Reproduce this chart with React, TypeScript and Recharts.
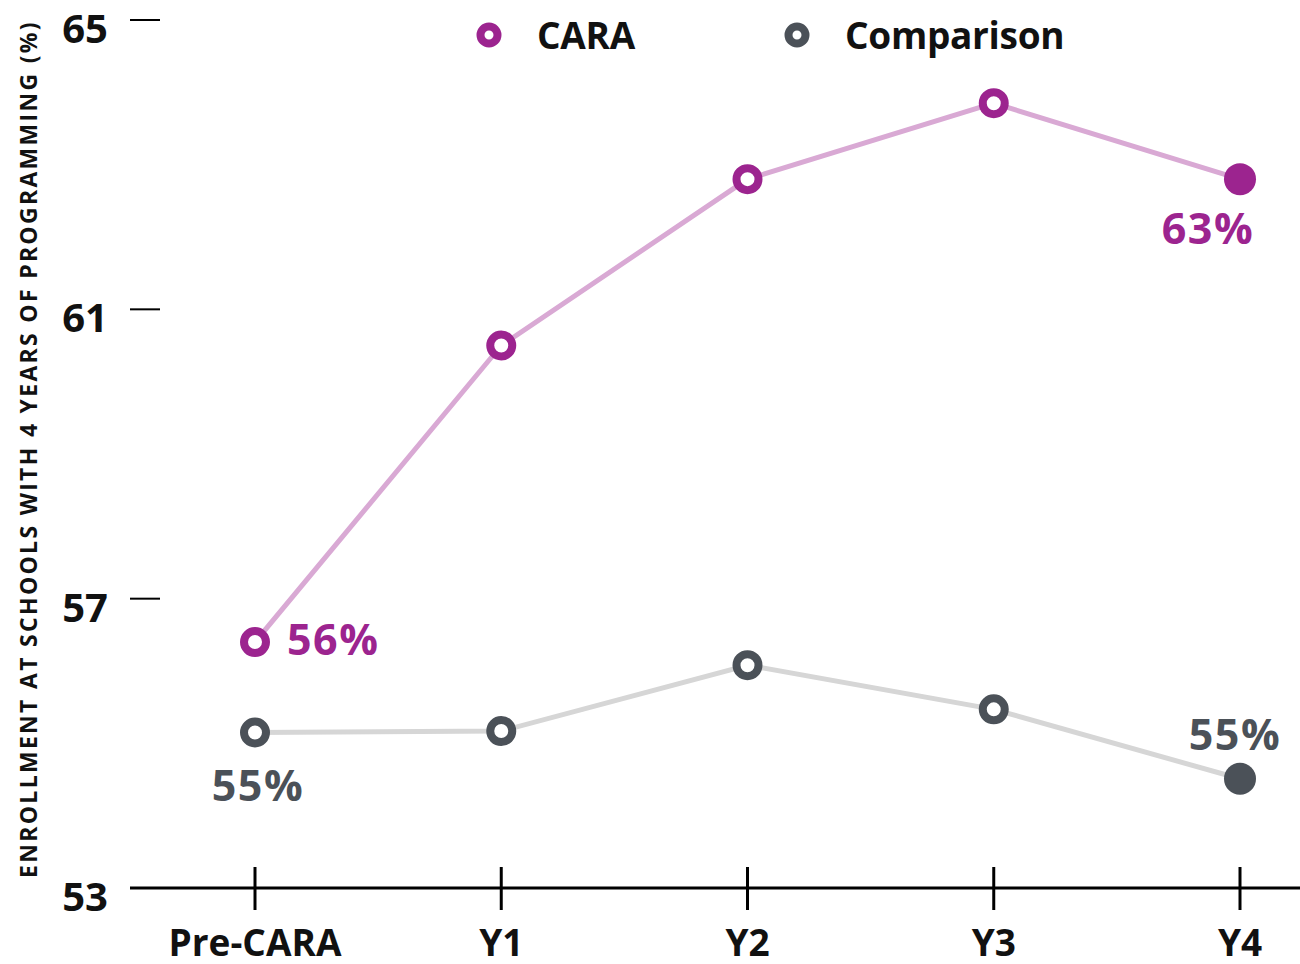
// Enrollment trend: CARA vs comparison schools
import { LineChart, Line, XAxis, YAxis, Legend, Label } from "recharts";

const periods = ["Pre-CARA", "Y1", "Y2", "Y3", "Y4"];
const caraValues = [56.4, 60.5, 62.8, 63.85, 62.8];
const comparisonValues = [55.15, 55.17, 56.08, 55.47, 54.51];
const yTicks = [53, 57, 61, 65];

const CARA_COLOR = "#9c248f";
const CARA_LINE = "#d9a9d4";
const COMP_COLOR = "#4b5158";
const COMP_LINE = "#d6d6d6";
const FONT = "'Open Sans', 'Noto Sans', sans-serif";

const data = periods.map((p, i) => ({
  period: p,
  cara: caraValues[i],
  comparison: comparisonValues[i],
}));

const makeDot = (color: string) => (props: any) => {
  const { cx, cy, index } = props;
  if (index === periods.length - 1) {
    return <circle key={`d${index}`} cx={cx} cy={cy} r={16} fill={color} />;
  }
  return (
    <circle key={`d${index}`} cx={cx} cy={cy} r={11} fill="#fff" stroke={color} strokeWidth={8} />
  );
};

const labelStyle = {
  fontFamily: FONT,
  fontWeight: 700,
  fontSize: 43,
  letterSpacing: 1.5,
};

const caraLabel = (props: any) => {
  const { x, y, value, index } = props;
  const txt = `${Math.round(value)}%`;
  if (index === 0)
    return (
      <text key="l0" x={x + 32} y={y + 13} fill={CARA_COLOR} textAnchor="start" style={labelStyle}>
        {txt}
      </text>
    );
  if (index === periods.length - 1)
    return (
      <text key="l4" x={x - 32} y={y + 65} fill={CARA_COLOR} textAnchor="middle" style={labelStyle}>
        {txt}
      </text>
    );
  return null;
};

const compLabel = (props: any) => {
  const { x, y, value, index } = props;
  const txt = `${Math.round(value)}%`;
  if (index === 0)
    return (
      <text key="c0" x={x + 3} y={y + 69} fill={COMP_COLOR} textAnchor="middle" style={labelStyle}>
        {txt}
      </text>
    );
  if (index === periods.length - 1)
    return (
      <text key="c4" x={x - 5} y={y - 29} fill={COMP_COLOR} textAnchor="middle" style={labelStyle}>
        {txt}
      </text>
    );
  return null;
};

const YTick = (props: any) => {
  const { x, y, payload } = props;
  return (
    <g>
      <line x1={x} x2={x + 30} y1={y} y2={y} stroke="#000" strokeWidth={2} />
      <text x={x - 22} y={y + 23} textAnchor="end" fill="#111" fontFamily={FONT} fontWeight={700} fontSize={40}>
        {payload.value}
      </text>
    </g>
  );
};

const XTick = (props: any) => {
  const { x, y, payload } = props;
  return (
    <g>
      <line x1={x} x2={x} y1={y - 21} y2={y + 22} stroke="#000" strokeWidth={3} />
      <text x={x} y={y + 68} textAnchor="middle" fill="#111" fontFamily={FONT} fontWeight={700} fontSize={37}>
        {payload.value}
      </text>
    </g>
  );
};

const renderLegend = () => (
  <svg width={1300} height={70} style={{ display: "block" }}>
    <circle cx={489} cy={35} r={8.5} fill="#fff" stroke={CARA_COLOR} strokeWidth={8} />
    <text x={537} y={49} fill="#111" fontFamily={FONT} fontWeight={700} fontSize={37} letterSpacing={-0.3}>
      CARA
    </text>
    <circle cx={797} cy={35} r={8.5} fill="#fff" stroke={COMP_COLOR} strokeWidth={8} />
    <text x={845} y={49} fill="#111" fontFamily={FONT} fontWeight={700} fontSize={37} letterSpacing={-0.3}>
      Comparison
    </text>
  </svg>
);

export default function App() {
  return (
    <div style={{ position: "absolute", left: 0, top: 0, background: "#fff" }}>
      <LineChart width={1300} height={964} data={data} margin={{ top: 20, right: 0, bottom: 0, left: 0 }}>
        <XAxis
          dataKey="period"
          height={76}
          padding={{ left: 125, right: 60 }}
          axisLine={{ stroke: "#000", strokeWidth: 3 }}
          tickLine={false}
          tickSize={0}
          tickMargin={0}
          tick={<XTick />}
          interval={0}
        />
        <YAxis
          width={130}
          domain={[53, 65]}
          ticks={yTicks}
          axisLine={false}
          tickLine={false}
          tickSize={0}
          tickMargin={0}
          tick={<YTick />}
        >
          <Label
            content={() => (
              <text
                x={28}
                y={449}
                transform="rotate(-90 28 449)"
                textAnchor="middle"
                dominantBaseline="central"
                fill="#111"
                fontFamily={FONT}
                fontWeight={700}
                fontSize={23}
                letterSpacing={2.3}
              >
                ENROLLMENT AT SCHOOLS WITH 4 YEARS OF PROGRAMMING (%)
              </text>
            )}
          />
        </YAxis>
        <Legend
          layout="horizontal"
          verticalAlign="middle"
          align="center"
          wrapperStyle={{ top: 0, left: 0, width: 1300, height: 70 }}
          content={renderLegend}
        />
        <Line
          dataKey="comparison"
          stroke={COMP_LINE}
          strokeWidth={5}
          dot={makeDot(COMP_COLOR)}
          activeDot={false}
          label={compLabel}
          isAnimationActive={false}
        />
        <Line
          dataKey="cara"
          stroke={CARA_LINE}
          strokeWidth={5}
          dot={makeDot(CARA_COLOR)}
          activeDot={false}
          label={caraLabel}
          isAnimationActive={false}
        />
      </LineChart>
    </div>
  );
}
